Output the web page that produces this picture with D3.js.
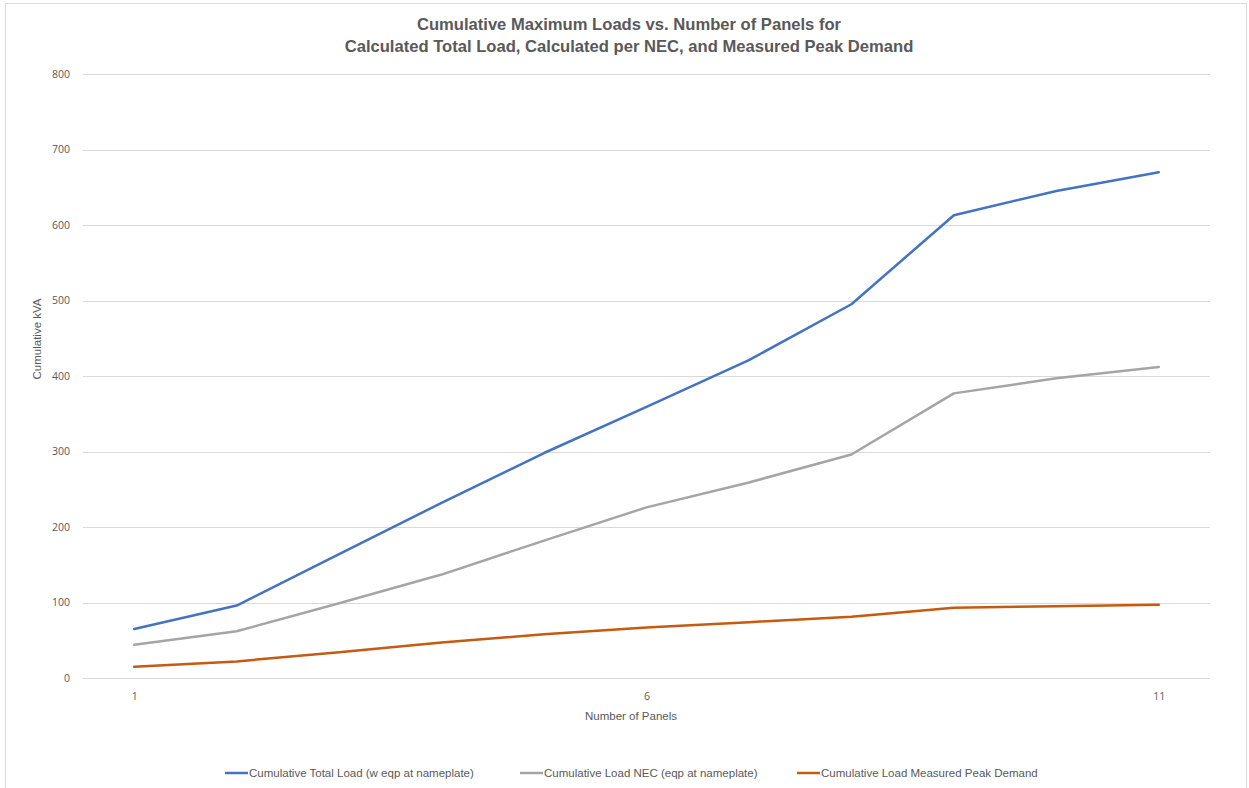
<!DOCTYPE html>
<html>
<head>
<meta charset="utf-8">
<script src="https://cdn.jsdelivr.net/npm/d3@7"></script>
<style>
  html, body { margin: 0; padding: 0; background: #fff; }
  svg { display: block; }
</style>
</head>
<body>
<svg id="chart" width="1249" height="788"></svg>
<script>
// Number of panels (category axis)
const panels = [1, 2, 3, 4, 5, 6, 7, 8, 9, 10, 11];
// Cumulative kVA for each series
const totalLoad = [65, 96, 164, 232, 298, 359, 421, 495, 613, 645, 670];
const necLoad = [44, 62, 99, 137, 182, 226, 259, 296, 377, 397, 412];
const peakDemand = [15, 22, 34, 47, 58, 67, 74, 81, 93, 95, 97];
const seriesNames = [
  "Cumulative Total Load (w eqp at nameplate)",
  "Cumulative Load NEC (eqp at nameplate)",
  "Cumulative Load Measured Peak Demand"
];
const yTicks = [0, 100, 200, 300, 400, 500, 600, 700, 800];
const xTickLabels = [1, 6, 11];
const titleLines = [
  "Cumulative Maximum Loads vs. Number of Panels for",
  "Calculated Total Load, Calculated per NEC, and Measured Peak Demand"
];

const colors = ["#4472C4", "#A5A5A5", "#C55A11"];
const font = "'Liberation Sans', Arial, sans-serif";
const textColor = "#595959";

const svg = d3.select("#chart");
const W = 1249, H = 788;
const plot = { left: 83, right: 1210, top: 74, bottom: 678 };

// chart area border
svg.append("rect")
  .attr("x", 5.5).attr("y", 3.5)
  .attr("width", W - 8).attr("height", H - 2)
  .attr("fill", "#fff").attr("stroke", "#d9d9d9");

const x = d3.scalePoint().domain(panels).range([plot.left, plot.right]).padding(0.5);
const y = d3.scaleLinear().domain([0, 800]).range([plot.bottom, plot.top]);

// Horizontal gridlines
svg.append("g").selectAll("line").data(yTicks).join("line")
  .attr("x1", plot.left).attr("x2", plot.right)
  .attr("y1", d => Math.round(y(d)) + 0.5).attr("y2", d => Math.round(y(d)) + 0.5)
  .attr("stroke", "#d9d9d9").attr("stroke-width", 1);

// Y axis labels
const yAxis = d3.axisLeft(y).tickValues(yTicks).tickSize(0).tickPadding(13);
svg.append("g").attr("transform", `translate(${plot.left},0)`).call(yAxis)
  .call(g => g.select(".domain").remove())
  .call(g => g.selectAll("text").attr("fill", textColor)
    .style("font-family", "'Open Sans', sans-serif").style("font-size", "10.5px"));

// X axis labels
const xAxis = d3.axisBottom(x).tickValues(xTickLabels).tickSize(0).tickPadding(15);
svg.append("g").attr("transform", `translate(0,${plot.bottom})`).call(xAxis)
  .call(g => g.select(".domain").remove())
  .call(g => g.selectAll("text").attr("fill", textColor)
    .style("font-family", "'Open Sans', sans-serif").style("font-size", "10.5px"));

// Series lines
const allSeries = [totalLoad, necLoad, peakDemand];
const line = d3.line().x((d, i) => x(panels[i])).y(d => y(d));
allSeries.forEach((vals, k) => {
  svg.append("path").datum(vals)
    .attr("d", line)
    .attr("fill", "none")
    .attr("stroke", colors[k])
    .attr("stroke-width", 2.5)
    .attr("stroke-linejoin", "round")
    .attr("stroke-linecap", "round");
});

// Title
svg.append("g").selectAll("text").data(titleLines).join("text")
  .attr("x", 629).attr("y", (d, i) => 30 + i * 22)
  .attr("text-anchor", "middle")
  .attr("fill", textColor)
  .style("font-family", font)
  .style("font-weight", "bold")
  .style("font-size", "16.6px")
  .text(d => d);

// Axis titles
svg.append("text")
  .attr("transform", "translate(41,339) rotate(-90)")
  .attr("text-anchor", "middle").attr("fill", textColor)
  .style("font-family", font).style("font-size", "11.5px")
  .text("Cumulative kVA");

svg.append("text")
  .attr("x", 631).attr("y", 720)
  .attr("text-anchor", "middle").attr("fill", textColor)
  .style("font-family", font).style("font-size", "11.5px")
  .text("Number of Panels");

// Legend
const legendX = [225, 520, 797];
const lg = svg.append("g").selectAll("g").data(seriesNames).join("g")
  .attr("transform", (d, i) => `translate(${legendX[i]},773)`);
lg.append("line").attr("x1", 0).attr("x2", 23).attr("y1", 0).attr("y2", 0)
  .attr("stroke", (d, i) => colors[i]).attr("stroke-width", 2.5);
lg.append("text").attr("x", 24).attr("y", 4)
  .attr("fill", textColor)
  .style("font-family", font).style("font-size", "11.5px")
  .text(d => d);
</script>
</body>
</html>
